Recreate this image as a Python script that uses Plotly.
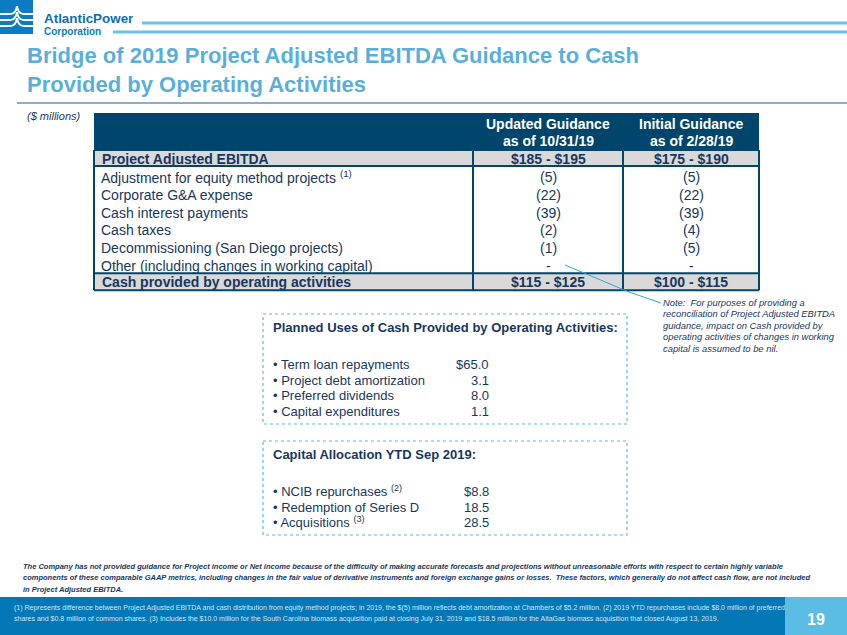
import plotly.graph_objects as go

# ---------------- data ----------------
title_lines = ["Bridge of 2019 Project Adjusted EBITDA Guidance to Cash",
               "Provided by Operating Activities"]
col_headers = [["Updated Guidance", "as of 10/31/19"], ["Initial Guidance", "as of 2/28/19"]]
top_row = ["Project Adjusted EBITDA", "$185 - $195", "$175 - $190"]
row_labels = ["Adjustment for equity method projects <sup>(1)</sup>",
              "Corporate G&A expense",
              "Cash interest payments",
              "Cash taxes",
              "Decommissioning (San Diego projects)",
              "Other (including changes in working capital)"]
updated_vals = ["(5)", "(22)", "(39)", "(2)", "(1)", "-"]
initial_vals = ["(5)", "(22)", "(39)", "(4)", "(5)", "-"]
bottom_row = ["Cash provided by operating activities", "$115 - $125", "$100 - $115"]

uses_title = "Planned Uses of Cash Provided by Operating Activities:"
uses_labels = ["Term loan repayments", "Project debt amortization", "Preferred dividends", "Capital expenditures"]
uses_values = ["$65.0", "3.1", "8.0", "1.1"]

alloc_title = "Capital Allocation YTD Sep 2019:"
alloc_labels = ["NCIB repurchases <sup>(2)</sup>", "Redemption of Series D", "Acquisitions <sup>(3)</sup>"]
alloc_values = ["$8.8", "18.5", "28.5"]

note_lines = ["Note:  For purposes of providing a",
              "reconciliation of Project Adjusted EBITDA",
              "guidance, impact on Cash provided by",
              "operating activities of changes in working",
              "capital is assumed to be nil."]
disclaimer_lines = [
    "The Company has not provided guidance for Project income or Net income because of the difficulty of making accurate forecasts and projections without unreasonable efforts with respect to certain highly variable",
    "components of these comparable GAAP metrics, including changes in the fair value of derivative instruments and foreign exchange gains or losses.  These factors, which generally do not affect cash flow, are not included",
    "in Project Adjusted EBITDA."]
footnote_lines = [
    "(1) Represents difference between Project Adjusted EBITDA and cash distribution from equity method projects; in 2019, the $(5) million reflects debt amortization at Chambers of $5.2 million. (2) 2019 YTD repurchases include $8.0 million of preferred",
    "shares and $0.8 million of common shares. (3) Includes the $10.0 million for the South Carolina biomass acquisition paid at closing July 31, 2019 and $18.5 million for the AltaGas biomass acquisition that closed August 13, 2019."]
page_no = "19"

# ---------------- style ----------------
W, H = 847, 635
FONT = "Arial, Liberation Sans, sans-serif"
NAVY = "#17375e"
HEAD = "#00456b"
GRAY = "#d9d9d9"
LBLUE = "#5aafd9"
DASH = "#5cb8ea"

shapes, ann = [], []

def text(x, y, s, size=13, color=NAVY, bold=False, italic=False, xanchor="left", family=FONT):
    if bold:
        s = "<b>" + s + "</b>"
    if italic:
        s = "<i>" + s + "</i>"
    ann.append(dict(x=x, y=y, xref="x", yref="y", text=s, showarrow=False,
                    xanchor=xanchor, yanchor="middle",
                    font=dict(size=size, color=color, family=family)))

def rect(x0, y0, x1, y1, fill=None, line=None, width=1, dash=None):
    d = dict(type="rect", xref="x", yref="y", x0=x0, y0=y0, x1=x1, y1=y1,
             fillcolor=fill if fill else "rgba(0,0,0,0)",
             line=dict(color=line if line else "rgba(0,0,0,0)", width=width if line else 0))
    if dash:
        d["line"]["dash"] = dash
    shapes.append(d)

def line(x0, y0, x1, y1, color, width=1):
    shapes.append(dict(type="line", xref="x", yref="y", x0=x0, y0=y0, x1=x1, y1=y1,
                       line=dict(color=color, width=width)))

# ---- logo ----
rect(0, 0, 33, 34, fill="#0a7cc4")
for yy in (14, 20, 26):
    shapes.append(dict(type="path", xref="x", yref="y",
                       path=f"M 0 {yy} L 10 {yy} Q 16 {yy} 17 {yy-8} Q 18 {yy} 24 {yy} L 33 {yy}",
                       line=dict(color="white", width=2)))
text(42, 18.5, "AtlanticPower", size=13.4, color="#0a6fb8", bold=True)
text(42, 31.5, "Corporation", size=10, color="#0a7cc4", bold=True)
line(142, 23, W, 23, "#6cc0e0", 3)
line(113, 32, W, 32, "#6cc0e0", 3)

# ---- title ----
for i, t in enumerate(title_lines):
    text(25, 55 + 29 * i, t, size=22, color=LBLUE, bold=True)
line(17, 103, W, 103, "#6b8fae", 1.5)
text(25, 116, "($ millions)", size=11, color=NAVY, italic=True)

# ---- table ----
tx0, tc1, tc2, tx1 = 94, 473, 623, 759
col_c = [(tc1 + tc2) / 2, (tc2 + tx1) / 2]
hy0, hy1 = 113, 150
rect(tx0, hy0, tx1, hy1, fill=HEAD)
for j, hdr in enumerate(col_headers):
    for k, h in enumerate(hdr):
        text(col_c[j], 124 + 17 * k, h, size=14, color="white", bold=True, xanchor="center")

top_y0, top_y1 = 150, 166
rect(tx0, top_y0, tx1, top_y1, fill=GRAY)
rh = 17.7
body_y0 = top_y1
body_y1 = body_y0 + rh * len(row_labels)
bot_y0, bot_y1 = body_y1 + 1, body_y1 + 18
rect(tx0, bot_y0, tx1, bot_y1, fill=GRAY)

TS = 14
text(100, (top_y0 + top_y1) / 2 + 0.5, top_row[0], size=TS, bold=True)
text(col_c[0], (top_y0 + top_y1) / 2 + 0.5, top_row[1], size=TS, bold=True, xanchor="center")
text(col_c[1], (top_y0 + top_y1) / 2 + 0.5, top_row[2], size=TS, bold=True, xanchor="center")
for i, lab in enumerate(row_labels):
    yc = body_y0 + rh * (i + 0.5) + 2.5
    text(99, yc, lab, size=TS)
    text(col_c[0], yc, updated_vals[i], size=TS, xanchor="center")
    text(col_c[1], yc, initial_vals[i], size=TS, xanchor="center")
text(100, (bot_y0 + bot_y1) / 2 + 0.5, bottom_row[0], size=TS, bold=True)
text(col_c[0], (bot_y0 + bot_y1) / 2 + 0.5, bottom_row[1], size=TS, bold=True, xanchor="center")
text(col_c[1], (bot_y0 + bot_y1) / 2 + 0.5, bottom_row[2], size=TS, bold=True, xanchor="center")

# borders
for yy in (top_y0, top_y1, bot_y0, bot_y1):
    line(tx0, yy, tx1, yy, HEAD, 2)
for xx in (tx0, tc1, tc2, tx1):
    line(xx, hy1, xx, bot_y1, HEAD, 2)

# leader line + note
shapes.append(dict(type="path", xref="x", yref="y",
                   path="M 565 265 L 629 292 L 661 303", line=dict(color="#2aa7e0", width=1)))
for i, t in enumerate(note_lines):
    text(661, 302 + 11.6 * i, t, size=9.4, italic=True)

# ---- boxes ----
def box(y0, y1, title, labels, values, ys):
    rect(263, y0, 627, y1, line=DASH, width=1.2, dash="dot")
    text(271, y0 + 13, title, size=13, bold=True)
    for lab, v, yy in zip(labels, values, ys):
        text(271, yy, "\u2022 " + lab, size=13)
        text(491, yy, v, size=13, xanchor="right")

box(314, 424, uses_title, uses_labels, uses_values, [364, 380, 395.5, 411])
box(441, 535, alloc_title, alloc_labels, alloc_values, [491, 507, 522])

# ---- disclaimer ----
for i, t in enumerate(disclaimer_lines):
    text(21, 566 + 11.5 * i, t, size=7.5, bold=True, italic=True)

# ---- footer ----
rect(0, 597, 785, H, fill="#0478b7")
rect(785, 597, W, H, fill="#5bbde3")
for i, t in enumerate(footnote_lines):
    text(12, 608 + 10.5 * i, t, size=7, color="#cfe6f5")
text(816, 619, page_no, size=16, color="white", bold=True, xanchor="center")

fig = go.Figure()
fig.update_layout(
    width=W, height=H, margin=dict(l=0, r=0, t=0, b=0),
    paper_bgcolor="white", plot_bgcolor="white",
    xaxis=dict(range=[0, W], visible=False, fixedrange=True),
    yaxis=dict(range=[H, 0], visible=False, fixedrange=True),
    shapes=shapes, annotations=ann, showlegend=False,
)
fig.write_html("out.html", config={"displayModeBar": False},
               post_script="document.body.style.margin='0px';document.body.style.overflow='hidden';")
